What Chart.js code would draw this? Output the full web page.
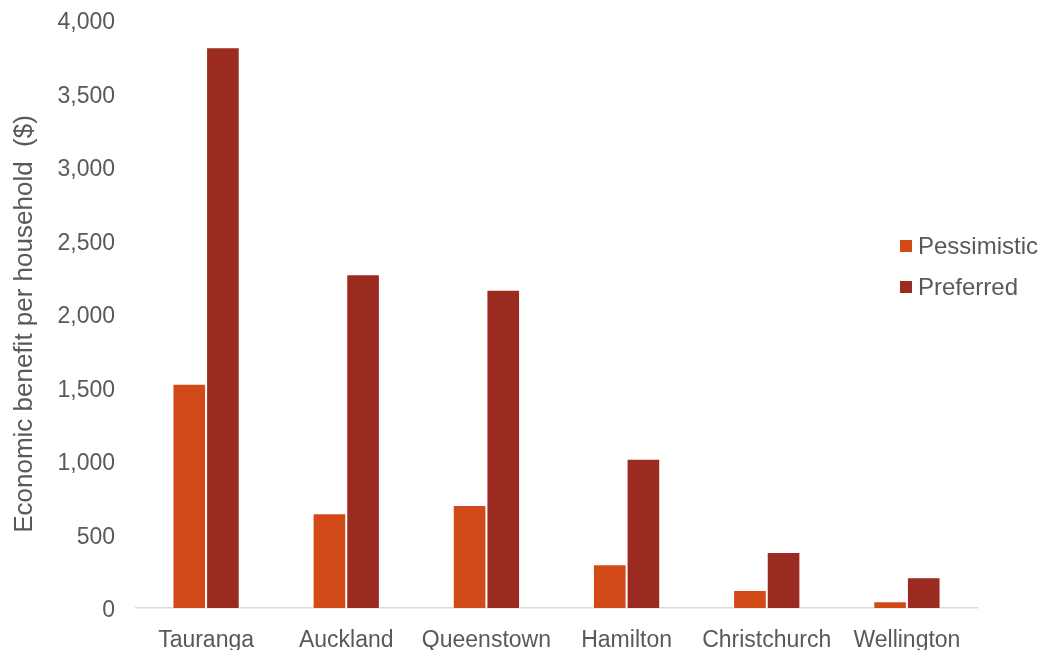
<!DOCTYPE html>
<html>
<head>
<meta charset="utf-8">
<script src="https://cdn.jsdelivr.net/npm/chart.js@4"></script>
<style>
html,body{margin:0;padding:0;background:#fff;}
#wrap{width:1041px;height:650px;position:relative;}
</style>
</head>
<body>
<div id="wrap"><canvas id="c" width="1041" height="650"></canvas></div>
<script>
const categories = ["Tauranga","Auckland","Queenstown","Hamilton","Christchurch","Wellington"];
const seriesNames = ["Pessimistic","Preferred"];
const pessimistic = [1525, 645, 700, 297, 122, 46];
const preferred = [3815, 2270, 2165, 1015, 381, 209];
const yTicks = [0,500,1000,1500,2000,2500,3000,3500,4000];
const colors = ["#D24A18","#9B2B20"];
const yTitle = "Economic benefit per household  ($)";

const FONT = "'Liberation Sans', Arial, sans-serif";
const TEXT = "#595959";

const legendPlugin = {
  id: 'customLegend',
  afterDraw(chart) {
    const ctx = chart.ctx;
    ctx.save();
    ctx.font = "24px " + FONT;
    ctx.textBaseline = "middle";
    chart.data.datasets.forEach((ds, i) => {
      const y = 246 + i * 41;
      ctx.fillStyle = ds.backgroundColor;
      ctx.fillRect(900, y - 6, 12, 12);
      ctx.fillStyle = TEXT;
      ctx.fillText(ds.label, 918, y + 1);
    });
    // y-axis title
    ctx.translate(25, 324);
    ctx.rotate(-Math.PI / 2);
    ctx.font = "26px " + FONT;
    ctx.textAlign = "center";
    ctx.fillStyle = TEXT;
    ctx.fillText(yTitle, 0, 0);
    ctx.restore();
  }
};

new Chart(document.getElementById('c'), {
  type: 'bar',
  data: {
    labels: categories,
    datasets: [
      {label: seriesNames[0], data: pessimistic, backgroundColor: colors[0], borderColor: "#ffffff", borderWidth: 1},
      {label: seriesNames[1], data: preferred, backgroundColor: colors[1], borderColor: "#ffffff", borderWidth: 1}
    ]
  },
  options: {
    responsive: false,
    animation: false,
    devicePixelRatio: 1,
    layout: {padding: {top: 20, right: 64, bottom: 0, left: 0}},
    plugins: {legend: {display: false}, tooltip: {enabled: false}},
    datasets: {bar: {categoryPercentage: 0.48, barPercentage: 1.0}},
    scales: {
      x: {
        grid: {display: false, drawTicks: false},
        border: {display: true, color: "#D9D9D9", width: 1.5},
        ticks: {color: TEXT, font: {family: FONT, size: 23}, padding: 19, maxRotation: 0, autoSkip: false},
        afterFit(scale) { scale.height = 42; scale.paddingLeft = 0; scale.paddingRight = 0; }
      },
      y: {
        min: 0, max: 4000,
        afterBuildTicks(scale) { scale.ticks = yTicks.map(v => ({value: v})); },
        grid: {display: false, drawTicks: false},
        border: {display: false},
        ticks: {
          color: TEXT, font: {family: FONT, size: 23}, padding: 21, labelOffset: 3,
          callback: v => v.toLocaleString('en-US')
        },
        title: {display: false, text: yTitle},
        afterFit(scale) { scale.width = 136; scale.paddingTop = 0; scale.paddingBottom = 0; }
      }
    }
  },
  plugins: [legendPlugin]
});
</script>
</body>
</html>
